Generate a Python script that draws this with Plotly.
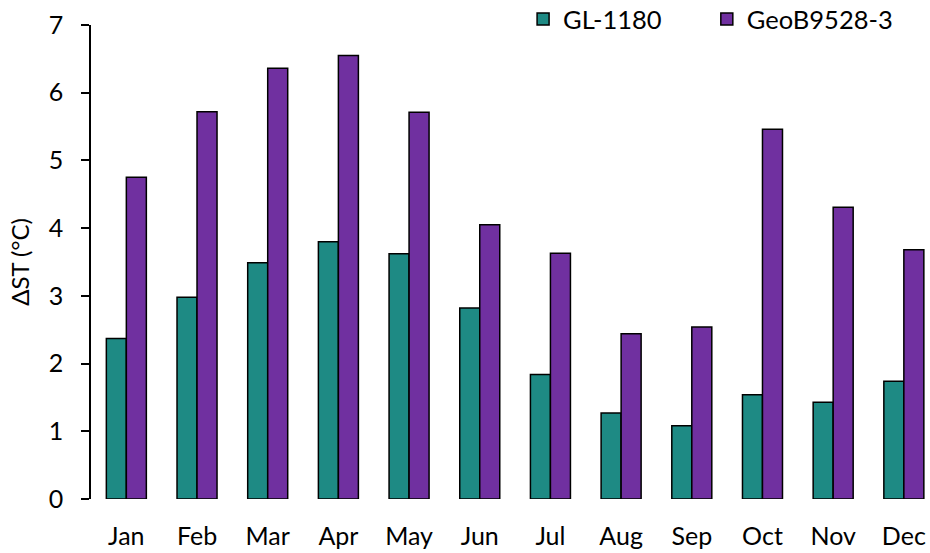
import plotly.graph_objects as go

months = ["Jan", "Feb", "Mar", "Apr", "May", "Jun", "Jul", "Aug", "Sep", "Oct", "Nov", "Dec"]
gl_1180 = [2.37, 2.98, 3.49, 3.80, 3.62, 2.82, 1.84, 1.27, 1.08, 1.54, 1.43, 1.74]
geob_9528 = [4.75, 5.72, 6.36, 6.55, 5.71, 4.05, 3.63, 2.44, 2.54, 5.46, 4.31, 3.68]
y_ticks = [0, 1, 2, 3, 4, 5, 6, 7]

FONT = "Lato"
outline = dict(color="black", width=1.5)

fig = go.Figure()
fig.add_trace(go.Bar(x=months, y=gl_1180, name="GL-1180", legend="legend",
                     marker=dict(color="#1E8A84", line=outline)))
fig.add_trace(go.Bar(x=months, y=geob_9528, name="GeoB9528-3", legend="legend2",
                     marker=dict(color="#7030A0", line=outline)))

legend_style = dict(orientation="h", y=1.012, xanchor="left", yanchor="middle",
                    font=dict(size=25.5), itemwidth=30, bgcolor="rgba(0,0,0,0)")

fig.update_layout(
    width=930, height=553,
    margin=dict(l=91, r=0, t=25, b=54, autoexpand=False),
    paper_bgcolor="white", plot_bgcolor="white",
    barmode="group", bargap=0.434, bargroupgap=0,
    font=dict(family=FONT, size=25, color="black"),
    showlegend=True,
    legend=dict(x=0.515, **legend_style),
    legend2=dict(x=0.734, **legend_style),
    xaxis=dict(range=[-0.5, 11.37], showline=False, showgrid=False, ticks="",
               tickfont=dict(size=25), ticklabelstandoff=20, zeroline=False),
    yaxis=dict(range=[0, 7], tickvals=y_ticks, showline=True, linecolor="black",
               linewidth=1.5, ticks="outside", ticklen=8, tickwidth=1.5,
               tickcolor="black", showgrid=False, zeroline=False,
               tickfont=dict(size=25), ticklabelstandoff=13,
               title=dict(text="ΔST (°C)", font=dict(size=24), standoff=12)),
)

fig.write_html("out.html")
